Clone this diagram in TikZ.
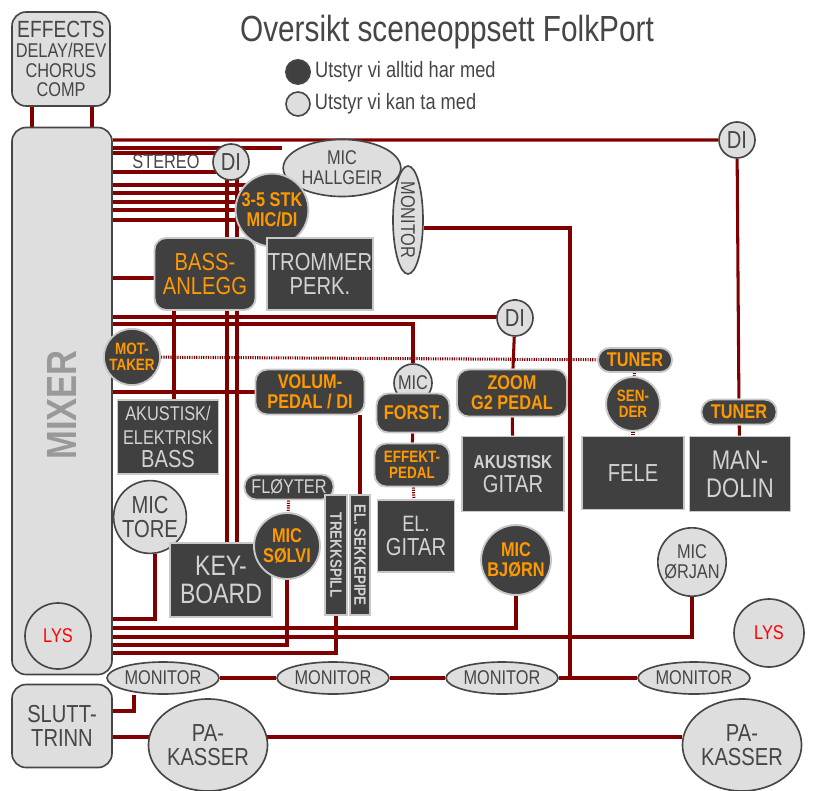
\documentclass[tikz,border=0pt]{standalone}
\usepackage{fontspec}
\setmainfont{Liberation Sans}[FakeStretch=0.82]
\usetikzlibrary{backgrounds,shapes.geometric}
\newlength\pxl
\setlength\pxl{0.03cm}
\definecolor{wirered}{RGB}{128,0,0}
\definecolor{darkfill}{RGB}{64,64,64}
\definecolor{lightfill}{RGB}{222,222,222}
\definecolor{rimgray}{RGB}{200,200,200}
\definecolor{textgray}{RGB}{210,210,210}
\definecolor{inkgray}{RGB}{70,70,70}
\definecolor{always}{RGB}{255,153,0}
\tikzset{
  wire/.style={draw=wirered, line width=2.6pt},
  hatch/.style={draw=wirered, line width=2.6pt, dash pattern=on 1pt off 1pt},
  dark/.style={fill=darkfill, draw=rimgray, line width=1.6pt, inner sep=1pt, align=center},
  light/.style={fill=lightfill, draw=inkgray, line width=1.4pt, inner sep=1pt, align=center, text=inkgray},
  own/.style={text=always},
  grey/.style={text=textgray},
  box/.style 2 args={minimum width=#1\pxl, minimum height=#2\pxl},
  big/.style={font=\fontsize{21}{21}\selectfont},
  mid/.style={font=\fontsize{17}{17}\selectfont},
  sml/.style={font=\fontsize{14}{14}\selectfont},
}
\begin{document}
\begin{tikzpicture}[x=0.03cm, y=-0.03cm]
\useasboundingbox (0,0) rectangle (818,791);

% title and legend
\node[font=\fontsize{31}{32}\selectfont, text=inkgray] (title) at (447,32) {Oversikt sceneoppsett FolkPort};
\node[dark, draw=inkgray, circle, box={24}{24}] (legdark) at (298,72) {};
\node[light, circle, box={24}{24}] (leglight) at (298,104) {};
\node[anchor=west, font=\fontsize{19}{19}\selectfont, text=inkgray] at (legdark.east) {Utstyr vi alltid har med};
\node[anchor=west, font=\fontsize{19}{19}\selectfont, text=inkgray] at (leglight.east) {Utstyr vi kan ta med};

% rack
\node[light, rounded corners=12pt, box={98}{94}, mid] (effects) at (61,59)
  {\fontsize{20}{20}\selectfont EFFECTS\\DELAY/REV\\CHORUS\\COMP};
\node[light, rounded corners=12pt, box={100}{547}] (mixer) at (62,401) {};
\node[rotate=90, font=\fontsize{36}{36}\selectfont\bfseries, text=black!40] at (62,405) {MIXER};
\node[light, rounded corners=12pt, box={100}{83}, big] (slutt) at (62,726) {SLUTT-\\TRINN};
\node[light, circle, box={66}{66}, mid, text=red] (lys1) at (58,636) {LYS};

% stage
\node[light, circle, box={36}{36}, big] (di1) at (231,162) {DI};
\node[light, circle, box={36}{36}, big] (di2) at (737,140) {DI};
\node[light, circle, box={36}{36}, big] (di3) at (515,318) {DI};
\node[light, ellipse, box={93}{57}, mid] (hallgeir) at (342,168) {MIC\\HALLGEIR};
\node[light, ellipse, box={30}{108}] (monv) at (408,220) {};
\node[rotate=-90, mid, text=inkgray] at (monv) {MONITOR};
\node[dark, circle, box={66}{66}, mid, own] (stk) at (272,210) {\bfseries 3-5 STK\\\bfseries MIC/DI};
\node[dark, rounded corners=10pt, box={101}{72}, big, own] (bassamp) at (205,274) {BASS-\\ANLEGG};
\node[dark, box={101}{72}, big, grey] (drums) at (320,274) {TROMMER\\PERK.};
\node[dark, circle, box={56}{56}, sml, own] (mottaker) at (132,357) {\bfseries MOT-\\\bfseries TAKER};
\node[dark, box={101}{74}, mid, grey, font=\fontsize{17}{20}\selectfont] (bass) at (168,437) {AKUSTISK/\\ELEKTRISK\\{\fontsize{21}{21}\selectfont BASS}};
\node[light, circle, box={66}{66}, big] (tore) at (150,517) {MIC\\TORE};
\node[dark, rounded corners=10pt, box={109}{45}, mid, own] (volum) at (310,392) {\bfseries VOLUM-\\\bfseries PEDAL / DI};
\node[dark, rounded corners=10pt, box={89}{25}, mid, grey] (floyter) at (289,487) {FLØYTER};
\node[dark, box={102}{74}, big, grey, font=\fontsize{24}{24}\selectfont] (keyboard) at (221,580) {KEY-\\BOARD};
\node[dark, circle, box={66}{66}, mid, own] (solvi) at (287,546) {\bfseries MIC\\\bfseries SØLVI};
\node[dark, box={22}{120}] (trekk) at (336,555) {};
\node[rotate=-90, sml, grey, font=\bfseries\fontsize{14}{14}\selectfont] at (trekk) {TREKKSPILL};
\node[dark, box={20}{120}] (sekk) at (360,555) {};
\node[rotate=-90, sml, grey, font=\bfseries\fontsize{14}{14}\selectfont] at (sekk) {EL. SEKKEPIPE};
\node[light, circle, box={38}{38}, mid] (micf) at (413,383) {MIC};
\node[dark, rounded corners=10pt, box={73}{39}, mid, own] (forst) at (413,413) {\bfseries FORST.};
\node[dark, rounded corners=10pt, box={75}{43}, sml, own] (effekt) at (412,465) {\bfseries EFFEKT-\\\bfseries PEDAL};
\node[dark, box={77}{72}, big, grey] (elgitar) at (416,536) {\fontsize{19}{19}\selectfont EL.\\GITAR};
\node[dark, rounded corners=10pt, box={110}{47}, mid, own] (zoom) at (512,393) {\bfseries ZOOM\\\bfseries G2 PEDAL};
\node[dark, box={102}{75}, big, grey] (akgitar) at (513,474) {\fontsize{16}{18}\selectfont\bfseries AKUSTISK\\{\fontsize{21}{21}\selectfont GITAR}};
\node[dark, circle, box={66}{66}, mid, own] (bjorn) at (516,560) {\bfseries MIC\\\bfseries BJØRN};
\node[dark, rounded corners=10pt, box={74}{24}, mid, own] (tuner1) at (635,360) {\bfseries TUNER};
\node[dark, circle, box={54}{54}, sml, own] (sender) at (633,404) {\bfseries SEN-\\\bfseries DER};
\node[dark, box={102}{73}, big, grey] (fele) at (633,473) {FELE};
\node[dark, rounded corners=10pt, box={75}{25}, mid, own] (tuner2) at (739,412) {\bfseries TUNER};
\node[dark, box={101}{75}, big, grey, font=\fontsize{23}{24}\selectfont] (mandolin) at (740,474) {MAN-\\DOLIN};
\node[light, circle, box={68}{68}, mid] (orjan) at (692,562) {MIC\\ØRJAN};
\node[light, ellipse, box={70}{68}, mid, text=red] (lys2) at (769,633) {LYS};
\node[light, ellipse, box={98}{32}, mid] (mon1) at (163,678) {MONITOR};
\node[light, ellipse, box={98}{32}, mid] (mon2) at (333,678) {MONITOR};
\node[light, ellipse, box={98}{32}, mid] (mon3) at (502,678) {MONITOR};
\node[light, ellipse, box={106}{32}, mid] (mon4) at (694,678) {MONITOR};
\node[light, ellipse, box={104}{92}, big] (pa1) at (208,745) {PA-\\KASSER};
\node[light, ellipse, box={116}{92}, big] (pa2) at (742,745) {PA-\\KASSER};
\node[mid, text=inkgray] (stereo) at (166,162) {STEREO};

\begin{scope}[on background layer]
% rack cabling
\draw[wire] (effects.south -| 32,0) -- (mixer.north -| 32,0);
\draw[wire] (effects.south -| 92,0) -- (mixer.north -| 92,0);
\draw[wire] (mixer.east |- 0,140) -- (di2) -- (tuner2);
\draw[wire] (tuner2) -- (mandolin);
\draw[wire] (mixer.east |- 0,148) -- (hallgeir.west |- 0,148);
\foreach \y in {153,172} \draw[wire] (mixer.east |- 0,\y) -- (di1 |- 0,\y);
\foreach \x in {227,237} \draw[wire] (di1 -| \x,0) -- (keyboard.north -| \x,0);
\foreach \y in {185,193,202,210,220} \draw[wire] (mixer.east |- 0,\y) -- (stk |- 0,\y);
\draw[wire] (mixer.east |- 0,278) -- (bassamp.west |- 0,278);
\draw[wire] (bassamp.south -| 174,0) -- (bass.north -| 174,0);
\draw[wire] (mixer.east |- 0,317) -| (di3);
\draw[wire] (di3) -- (zoom) -- (akgitar);
\draw[wire] (mixer.east |- 0,324) -| (micf);
\draw[hatch] (mottaker) -- (tuner1);
\draw[hatch] (tuner1) -- (sender);
\draw[hatch] (sender) -- (fele);
\draw[wire] (mixer.east |- 0,392) -- (volum.west |- 0,392);
\draw[wire] (volum.south -| 360,0) -- (sekk.north -| 360,0);
\draw[wire] (forst) -- (effekt);
\draw[hatch] (effekt) -- (elgitar);
\draw[hatch] (floyter) -- (solvi);
\draw[wire] (tore.south -| 155,0) |- (mixer.east |- 0,619);
\draw[wire] (mixer.east |- 0,628) -| (bjorn);
\draw[wire] (mixer.east |- 0,637) -| (orjan);
\draw[wire] (mixer.east |- 0,645) -| (solvi);
\draw[wire] (mixer.east |- 0,653) -| (trekk);
\draw[wire] (monv.east |- 0,228) -| (mon3.east -| 570,0);
\draw[wire] (mon1) -- (mon2) -- (mon3) -- (mon4);
\draw[wire] (mon1.south -| 134,0) |- (slutt.east |- 0,711);
\draw[wire] (slutt.east |- 0,737) -- (pa1.west |- 0,737) -- (pa2.west |- 0,737);
\end{scope}
\end{tikzpicture}
\end{document}
